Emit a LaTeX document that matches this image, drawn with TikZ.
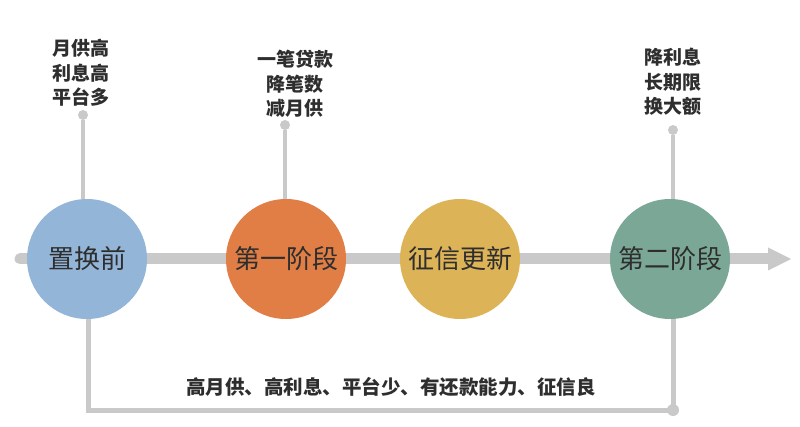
\documentclass[tikz,border=0pt]{standalone}
\usepackage{fontspec}
\newfontfamily\cjk{Noto Sans CJK SC}
\definecolor{linegray}{HTML}{C9C9C9}
\definecolor{cblue}{HTML}{93B5D8}
\definecolor{corange}{HTML}{E07E45}
\definecolor{cgold}{HTML}{DDB357}
\definecolor{cteal}{HTML}{7BA896}
\definecolor{txt}{HTML}{2E2E2E}
\tikzset{
  mainline/.style={draw=linegray, line width=11pt, line cap=round},
  stem/.style={draw=linegray, line width=4pt},
  dotmark/.style={circle, fill=linegray, inner sep=0pt, minimum size=10pt},
  stage/.style={circle, minimum size=120pt, inner sep=0pt, text=txt, font=\cjk\fontsize{26}{30}\selectfont},
  note/.style={align=center, text=txt, font=\cjk\bfseries\fontsize{19}{24.5}\selectfont, inner sep=0pt},
}
\begin{document}
\begin{tikzpicture}[x=1pt,y=1pt]
\useasboundingbox (0,0) rectangle (800,426);
% main timeline
\coordinate (start) at (20,167);
\coordinate (tipbase) at (768,167);
\coordinate (tip) at (791,167);
\draw[mainline] (start) -- (tipbase);
\fill[linegray] ([yshift=11.5pt]tipbase) -- (tip) -- ([yshift=-11.5pt]tipbase) -- cycle;
% dots
\node[dotmark] (d1) at (83,311) {};
\node[dotmark] (d2) at (285,301) {};
\node[dotmark] (d3) at (673,296) {};
\coordinate (b1) at (88,16);
\node[dotmark, minimum size=12pt] (b2) at (673,16) {};
% stages
\node[stage, fill=cblue] (s1) at (87,167) {置换前};
\node[stage, fill=corange] (s2) at (286,167) {第一阶段};
\node[stage, fill=cgold] (s3) at (460,167) {征信更新};
\node[stage, fill=cteal] (s4) at (670,167) {第二阶段};
% stems
\draw[stem] (d1) -- (d1 |- s1.north);
\draw[stem] (d2) -- (d2 |- s2.north);
\draw[stem] (d3) -- (d3 |- s4.north);
% bottom bracket
\draw[stem, line width=5pt] (b1 |- s1.south) -- (b1) -- (b2.center) -- (b2 |- s4.south);
% notes
\node[note] (n1) at (81,353) {月供高\\利息高\\平台多};
\node[note] (n2) at (295,342) {一笔贷款\\降笔数\\减月供};
\node[note] (n3) at (673,344) {降利息\\长期限\\换大额};
\node[note, font=\cjk\bfseries\fontsize{19.5}{24}\selectfont] (n4) at (391,39) {高月供、高利息、平台少、有还款能力、征信良};
\end{tikzpicture}
\end{document}
